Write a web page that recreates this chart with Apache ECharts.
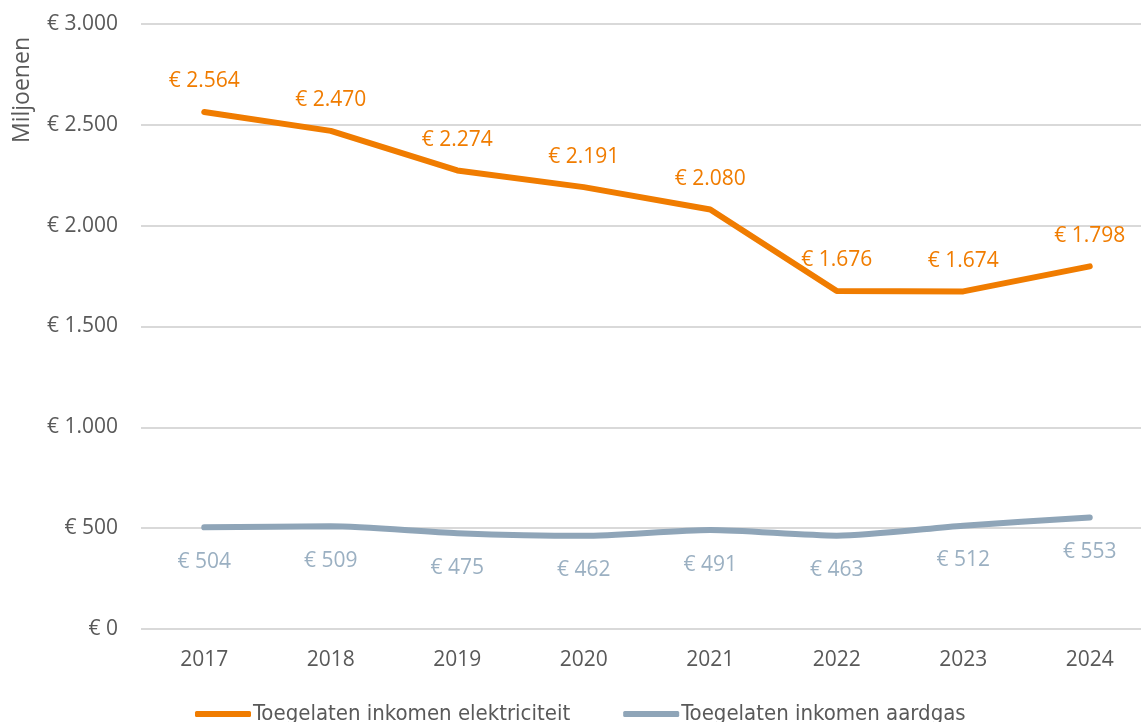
<!DOCTYPE html>
<html><head><meta charset="utf-8">
<script src="https://cdn.jsdelivr.net/npm/echarts@6/dist/echarts.min.js"></script>
<style>html,body{margin:0;padding:0;background:#fff}#c{width:1141px;height:722px}</style>
</head><body><div id="c"></div>
<script>
const years = ['2017','2018','2019','2020','2021','2022','2023','2024'];
const elektriciteit = [2564, 2470, 2274, 2191, 2080, 1676, 1674, 1798];
const aardgas = [504, 509, 475, 462, 491, 463, 512, 553];
const seriesNames = ['Toegelaten inkomen elektriciteit', 'Toegelaten inkomen aardgas'];
const yTicks = {min: 0, max: 3000, interval: 500};

const fmtEuro = v => '€ ' + String(v).replace(/\B(?=(\d{3})+(?!\d))/g, '.');
const FONT = 'Open Sans';
const chart = echarts.init(document.getElementById('c'));
chart.setOption({
  animation: false,
  textStyle: {fontFamily: FONT},
  grid: {left: 141, width: 1012, top: 24, bottom: 93, containLabel: false, outerBoundsMode: 'none'},
  xAxis: {
    type: 'category', data: years, boundaryGap: true,
    axisLine: {show: false}, axisTick: {show: false},
    axisLabel: {color: '#595959', fontSize: 21, margin: 21, fontFamily: FONT}
  },
  yAxis: {
    type: 'value', min: yTicks.min, max: yTicks.max, interval: yTicks.interval,
    axisLine: {show: false}, axisTick: {show: false},
    axisLabel: {color: '#595959', fontSize: 21, margin: 23, formatter: fmtEuro, fontFamily: FONT},
    splitLine: {lineStyle: {color: '#d9d9d9', width: 2}}
  },
  legend: {
    bottom: -8, left: 190, itemWidth: 56, itemHeight: 6, itemGap: 53,
    icon: 'roundRect',
    textStyle: {color: '#595959', fontSize: 22, padding: [0,0,0,-3], fontFamily: 'DejaVu Sans Condensed'},
    data: seriesNames
  },
  graphic: [{
    type: 'text', rotation: Math.PI/2,
    x: 11, y: 143, originX: 0, originY: 0,
    style: {text: 'Miljoenen', fill: '#595959', font: '23px "Open Sans"'}
  }],
  series: [
    {
      name: seriesNames[0], type: 'line', data: elektriciteit, symbol: 'circle', symbolSize: 0.1,
      lineStyle: {color: '#F07C00', width: 6, cap: 'round'}, itemStyle: {color: '#F07C00'},
      label: {show: true, position: 'top', distance: 20, color: '#F07C00', fontSize: 21, formatter: p => fmtEuro(p.value), fontFamily: FONT}
    },
    {
      name: seriesNames[1], type: 'line', data: aardgas, symbol: 'circle', symbolSize: 0.1, smooth: 0.25,
      lineStyle: {color: '#8FA5B8', width: 6, cap: 'round'}, itemStyle: {color: '#8FA5B8'},
      label: {show: true, position: 'bottom', distance: 24, color: '#9BB0C2', fontSize: 21, formatter: p => fmtEuro(p.value), fontFamily: FONT}
    }
  ]
});
</script></body></html>
